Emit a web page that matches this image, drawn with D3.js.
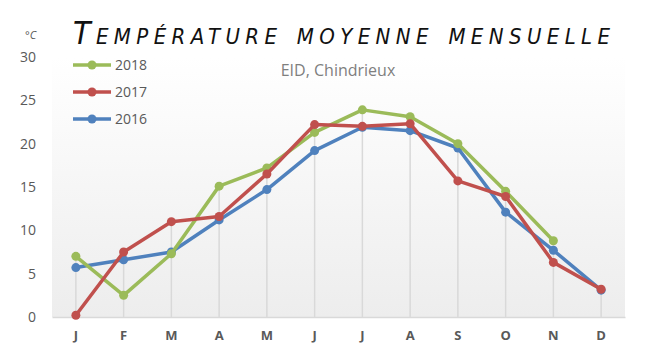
<!DOCTYPE html>
<html>
<head>
<meta charset="utf-8">
<script src="https://cdn.jsdelivr.net/npm/d3@7"></script>
<style>
  body { margin: 0; background: #fff; }
  text { font-family: "Open Sans", "Noto Sans", sans-serif; }
</style>
</head>
<body>
<div id="chart"></div>
<script>
// data
var months = ["J", "F", "M", "A", "M", "J", "J", "A", "S", "O", "N", "D"];
var years = ["2018", "2017", "2016"];
var colors = ["#9bbb59", "#c0504d", "#4f81bd"];
var t2018 = [7.0, 2.5, 7.3, 15.1, 17.2, 21.3, 23.9, 23.1, 20.0, 14.5, 8.8, null];
var t2017 = [0.2, 7.5, 11.0, 11.6, 16.5, 22.2, 22.0, 22.3, 15.7, 13.9, 6.3, 3.2];
var t2016 = [5.7, 6.6, 7.5, 11.2, 14.7, 19.2, 21.9, 21.5, 19.5, 12.1, 7.7, 3.1];
var yTicks = [0, 5, 10, 15, 20, 25, 30];

var series = [t2018, t2017, t2016];

var svgWidth = 648;
var svgHeight = 358;
var margin = {top: 57, right: 23, bottom: 41, left: 52};
var chartWidth = svgWidth - margin.left - margin.right;
var chartHeight = svgHeight - margin.top - margin.bottom;

var svg = d3.select("#chart").append("svg")
    .attr("width", svgWidth)
    .attr("height", svgHeight);

// background gradient
var grad = svg.append("defs").append("linearGradient")
    .attr("id", "bg").attr("x1", 0).attr("y1", 0).attr("x2", 0).attr("y2", 1);
grad.append("stop").attr("offset", "0%").attr("stop-color", "#ffffff");
grad.append("stop").attr("offset", "100%").attr("stop-color", "#ededed");

var chartGroup = svg.append("g")
    .attr("transform", `translate(${margin.left}, ${margin.top})`);

chartGroup.append("rect")
    .attr("width", chartWidth)
    .attr("height", chartHeight)
    .attr("fill", "url(#bg)");

// index-based band so the two M/J/A labels stay distinct
var xScale = d3.scaleBand()
    .domain(months.map((m, i) => i))
    .range([0, chartWidth]);
var xc = i => xScale(i) + xScale.bandwidth() / 2;

var yScale = d3.scaleLinear()
    .domain([0, 30])
    .range([chartHeight, 0]);

// drop lines
chartGroup.append("g").selectAll("line")
    .data(months.map((m, i) => d3.max(series, s => s[i])))
    .enter()
    .append("line")
    .attr("x1", (d, i) => xc(i))
    .attr("x2", (d, i) => xc(i))
    .attr("y1", d => yScale(d))
    .attr("y2", chartHeight)
    .attr("stroke", "#d9d9d9")
    .attr("stroke-width", 1.5);

// y axis
var yAxis = d3.axisLeft(yScale).tickValues(yTicks).tickSize(0).tickPadding(16);
var yg = chartGroup.append("g").call(yAxis);
yg.select(".domain").remove();
yg.selectAll("text").attr("fill", "#595959").style("font-size", "14px");

// x axis
var xAxis = d3.axisBottom(xScale).tickSize(0).tickPadding(14).tickFormat(i => months[i]);
var xg = chartGroup.append("g")
    .attr("transform", `translate(0, ${chartHeight})`)
    .call(xAxis);
xg.select(".domain").attr("stroke", "#d9d9d9").attr("stroke-width", 1.5);
xg.selectAll("text").attr("fill", "#595959")
    .style("font-size", "13px").style("font-weight", "bold");

// lines and markers, 2016 drawn first
var line = d3.line()
    .defined(d => d != null)
    .x((d, i) => xc(i))
    .y(d => yScale(d));

[2, 0, 1].forEach(function(k) {
    chartGroup.append("path")
        .datum(series[k])
        .attr("d", line)
        .attr("fill", "none")
        .attr("stroke", colors[k])
        .attr("stroke-width", 3.5)
        .attr("stroke-linejoin", "round");
    chartGroup.append("g").selectAll("circle")
        .data(series[k].map((v, i) => ({v: v, i: i})).filter(d => d.v != null))
        .enter()
        .append("circle")
        .attr("cx", d => xc(d.i))
        .attr("cy", d => yScale(d.v))
        .attr("r", 4.5)
        .attr("fill", colors[k]);
});

// legend
var legend = svg.append("g").selectAll("g")
    .data(years)
    .enter()
    .append("g")
    .attr("transform", (d, i) => `translate(73, ${65 + i * 27})`);
legend.append("line")
    .attr("x1", 0).attr("x2", 38)
    .attr("stroke", (d, i) => colors[i])
    .attr("stroke-width", 3.5);
legend.append("circle")
    .attr("cx", 19).attr("r", 4.5)
    .attr("fill", (d, i) => colors[i]);
legend.append("text")
    .attr("x", 42).attr("dy", "0.35em")
    .attr("fill", "#595959")
    .style("font-size", "14px")
    .text(d => d);

// title
svg.append("text")
    .attr("x", 73).attr("y", 44)
    .attr("textLength", 537)
    .attr("lengthAdjust", "spacing")
    .style("font-family", "'Liberation Sans Narrow', 'DejaVu Sans Condensed', sans-serif")
    .style("font-style", "italic")
    .style("font-variant", "small-caps")
    .style("font-size", "32px")
    .attr("fill", "#111")
    .text("Température moyenne mensuelle");

svg.append("text")
    .attr("x", 338).attr("y", 76)
    .attr("text-anchor", "middle")
    .attr("fill", "#7f7f7f")
    .style("font-size", "16px")
    .text("EID, Chindrieux");

svg.append("text")
    .attr("x", 25).attr("y", 39)
    .attr("fill", "#595959")
    .style("font-size", "11px")
    .style("font-style", "italic")
    .text("°C");
</script>
</body>
</html>
